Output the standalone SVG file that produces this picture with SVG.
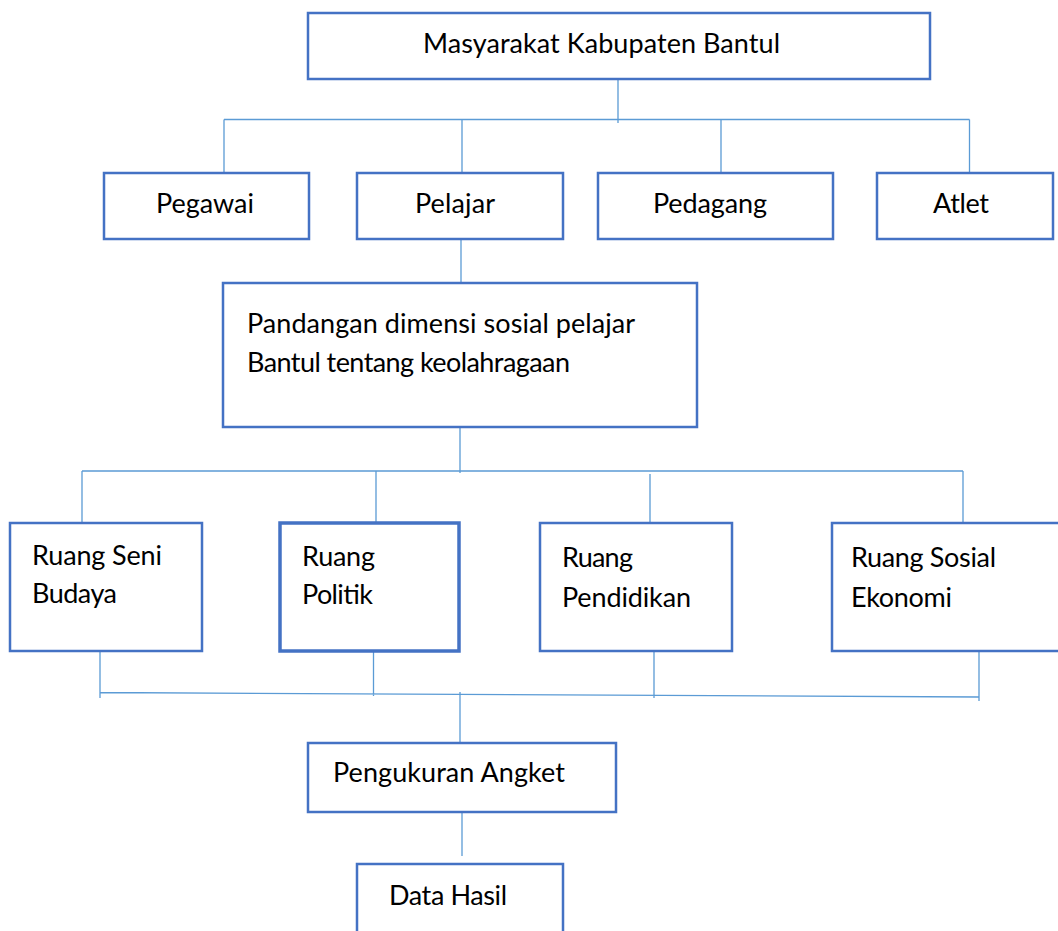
<svg xmlns="http://www.w3.org/2000/svg" width="1058" height="931" viewBox="0 0 1058 931">
<style>
.box{fill:#fff;stroke:#4472C4;stroke-width:2.5}
.thick{stroke-width:3.5}
.t{font-family:Lato,"Liberation Sans",sans-serif;font-size:27px;fill:#000}
.c{fill:none;stroke:#5B9BD5;stroke-width:1.3}
</style>
<rect width="1058" height="931" fill="#fff"/>
<g id="connectors">
<path class="c" d="M618 80V123M224 119.5H969.5M224 119.5V173M462 119.5V173M721 119.5V173M969.5 119.5V173"/>
<path class="c" d="M461 239V290"/>
<path class="c" d="M460 421V473M82 471H963M82 471V523M376 471V523M650 474V525M963 471V523"/>
<path class="c" d="M100 646V698M373.5 644V696M654 648V698M979 649V701M100 692.5L979 697"/>
<path class="c" d="M460 692V743"/>
<path class="c" d="M462 805V856"/>
</g>
<g id="n-masyarakat"><rect class="box" x="308" y="13" width="622" height="66"/><text class="t" x="423" y="53" textLength="357" lengthAdjust="spacing">Masyarakat Kabupaten Bantul</text></g>
<g id="n-pegawai"><rect class="box" x="104" y="173" width="205" height="66"/><text class="t" x="156" y="213" textLength="98" lengthAdjust="spacing">Pegawai</text></g>
<g id="n-pelajar"><rect class="box" x="357" y="173" width="206" height="66"/><text class="t" x="415" y="213" textLength="80" lengthAdjust="spacing">Pelajar</text></g>
<g id="n-pedagang"><rect class="box" x="598" y="173" width="235" height="66"/><text class="t" x="653" y="213" textLength="114" lengthAdjust="spacing">Pedagang</text></g>
<g id="n-atlet"><rect class="box" x="877" y="173" width="176" height="66"/><text class="t" x="933" y="213" textLength="56" lengthAdjust="spacing">Atlet</text></g>
<g id="n-pandangan"><rect class="box" x="223" y="283" width="474" height="144"/><text class="t" x="247" y="333" textLength="388" lengthAdjust="spacing">Pandangan dimensi sosial pelajar</text><text class="t" x="247" y="372" textLength="323" lengthAdjust="spacing">Bantul tentang keolahragaan</text></g>
<g id="n-seni"><rect class="box" x="10" y="523" width="192" height="128"/><text class="t" x="32" y="565" textLength="130" lengthAdjust="spacing">Ruang Seni</text><text class="t" x="32" y="603" textLength="85" lengthAdjust="spacing">Budaya</text></g>
<g id="n-politik"><rect class="box thick" x="280" y="523" width="179" height="128"/><text class="t" x="302" y="566" textLength="73" lengthAdjust="spacing">Ruang</text><text class="t" x="302" y="604" textLength="71" lengthAdjust="spacing">Politik</text></g>
<g id="n-pendidikan"><rect class="box" x="540" y="523" width="192" height="128"/><text class="t" x="562" y="567" textLength="71" lengthAdjust="spacing">Ruang</text><text class="t" x="562" y="607" textLength="129" lengthAdjust="spacing">Pendidikan</text></g>
<g id="n-sosial"><rect class="box" x="832" y="523" width="240" height="128"/><text class="t" x="851" y="567" textLength="145" lengthAdjust="spacing">Ruang Sosial</text><text class="t" x="851" y="607" textLength="101" lengthAdjust="spacing">Ekonomi</text></g>
<g id="n-pengukuran"><rect class="box" x="308" y="743" width="308" height="69"/><text class="t" x="333" y="782" textLength="232" lengthAdjust="spacing">Pengukuran Angket</text></g>
<g id="n-data"><rect class="box" x="357" y="864" width="206" height="80"/><text class="t" x="389" y="905" textLength="118" lengthAdjust="spacing">Data Hasil</text></g>
</svg>
